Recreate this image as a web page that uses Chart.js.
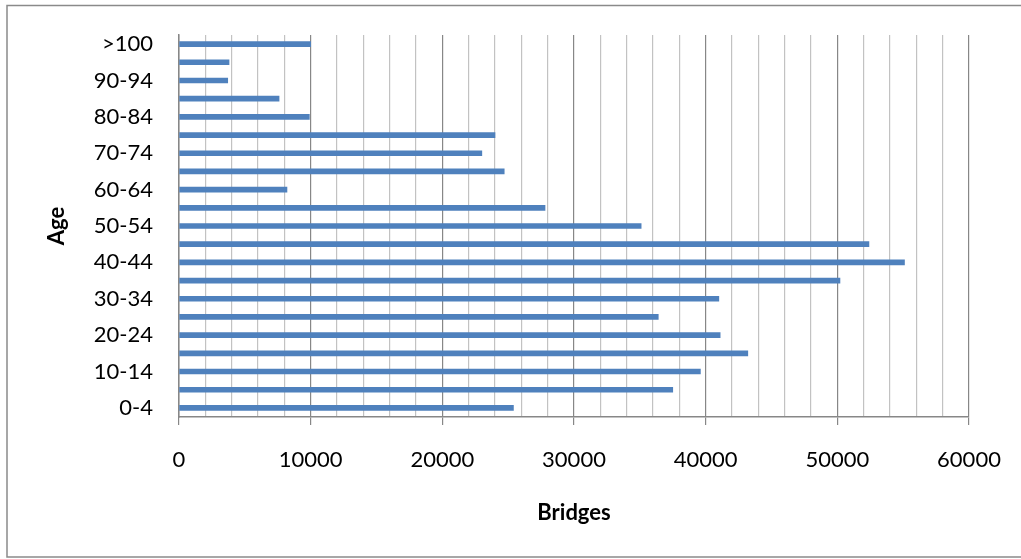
<!DOCTYPE html>
<html>
<head>
<meta charset="utf-8">
<script src="https://cdn.jsdelivr.net/npm/chart.js@4/dist/chart.umd.min.js"></script>
<style>
  html, body { margin: 0; padding: 0; background: #ffffff; }
  #wrap { width: 1021px; height: 559px; position: relative; }
</style>
</head>
<body>
<div id="wrap"><canvas id="c" width="1021" height="559"></canvas></div>
<script>
// Age groups, youngest first
const ageGroups = ['0-4', '5-9', '10-14', '15-19', '20-24', '25-29', '30-34', '35-39',
  '40-44', '45-49', '50-54', '55-59', '60-64', '65-69', '70-74', '75-79',
  '80-84', '85-89', '90-94', '95-99', '>100'];

// Number of bridges in each age group
const bridgeCounts = [25400, 37500, 39600, 43200, 41100, 36400, 41000, 50200,
  55100, 52400, 35100, 27800, 8200, 24700, 23000, 24000,
  9900, 7600, 3700, 3800, 10000];

// Value axis range and gridline spacing
const axisMin = 0;
const axisMax = 60000;
const minorStep = 2000;
const majorStep = 10000;

const FONT = "Lato, 'Open Sans', sans-serif";
const MAJOR = '#878787';
const MINOR = '#c2c2c2';

// Thin frame around the whole chart
const frame = {
  id: 'frame',
  beforeDraw(chart) {
    const ctx = chart.ctx;
    ctx.save();
    ctx.fillStyle = '#ffffff';
    ctx.fillRect(0, 0, chart.width, chart.height);
    ctx.strokeStyle = '#8a8a8a';
    ctx.lineWidth = 1.5;
    ctx.strokeRect(7, 5.5, chart.width + 10, 551.5);
    ctx.restore();
  }
};

new Chart(document.getElementById('c'), {
  type: 'bar',
  data: {
    labels: ageGroups,
    datasets: [{
      label: 'Bridges',
      data: bridgeCounts,
      backgroundColor: '#4f81bd',
      borderWidth: 0,
      barThickness: 5
    }]
  },
  plugins: [frame],
  options: {
    indexAxis: 'y',
    responsive: false,
    animation: false,
    devicePixelRatio: 1,
    layout: { padding: { left: 0, right: 52, top: 35, bottom: 0 } },
    plugins: {
      legend: { display: false },
      tooltip: { enabled: false }
    },
    scales: {
      x: {
        min: axisMin,
        max: axisMax,
        afterFit(scale) {
          scale.height = 142;
          scale.paddingLeft = 0;
          scale.paddingRight = 0;
        },
        border: { color: MAJOR, width: 1.5 },
        grid: {
          color: (c) => (c.tick && c.tick.value % majorStep === 0) ? MAJOR : MINOR,
          tickColor: (c) => (c.tick && c.tick.value % majorStep === 0) ? MAJOR : 'rgba(0,0,0,0)',
          lineWidth: 1.2,
          tickLength: 8,
          drawTicks: true
        },
        ticks: {
          stepSize: minorStep,
          autoSkip: false,
          maxRotation: 0,
          padding: 22,
          color: '#000000',
          font: { family: FONT, size: 22 },
          callback: (v) => (v % majorStep === 0) ? String(v) : ''
        },
        title: {
          display: true,
          text: 'Bridges',
          color: '#000000',
          font: { family: FONT, size: 22, weight: 'bold' },
          padding: { top: 0, bottom: 33 }
        }
      },
      y: {
        reverse: true,
        afterFit(scale) {
          scale.width = 179;
          scale.paddingTop = 0;
          scale.paddingBottom = 0;
        },
        border: { color: MAJOR, width: 1.5 },
        grid: { display: false, drawTicks: false },
        ticks: {
          autoSkip: false,
          padding: 26,
          color: '#000000',
          font: { family: FONT, size: 22 },
          callback: function (v, i) { return i % 2 === 0 ? this.getLabelForValue(v) : ''; }
        },
        title: {
          display: true,
          text: 'Age',
          color: '#000000',
          font: { family: FONT, size: 22, weight: 'bold' },
          padding: { top: 44, bottom: 0 }
        }
      }
    }
  }
});
</script>
</body>
</html>
